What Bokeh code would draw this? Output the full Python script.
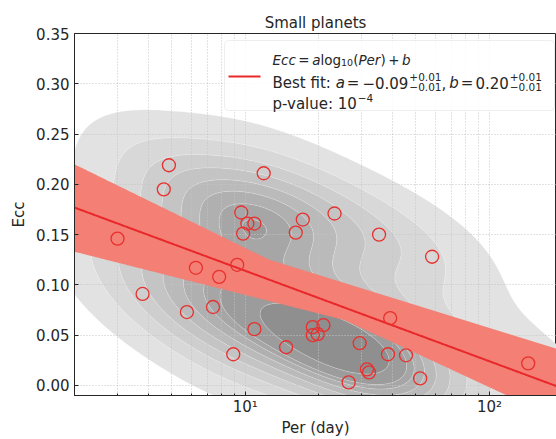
import numpy as np
from bokeh.plotting import figure
from bokeh.models import FixedTicker, NumeralTickFormatter, Label, BoxAnnotation, Range1d
from bokeh.embed import file_html
from bokeh.resources import INLINE

# ---------------- data ----------------
period = [3.0, 3.8, 4.64, 4.87, 5.77, 6.28, 7.38, 7.82, 8.93, 9.27,
          9.63, 9.8, 10.2, 10.9, 10.9, 11.9, 14.7, 16.1, 17.2, 18.9,
          18.9, 19.8, 20.9, 23.2, 26.5, 29.4, 31.5, 32.1, 35.3, 38.4,
          39.2, 45.5, 52.0, 58.2, 144.0]
ecc = [0.146, 0.091, 0.195, 0.219, 0.073, 0.117, 0.078, 0.108, 0.031, 0.120,
       0.172, 0.151, 0.161, 0.161, 0.056, 0.211, 0.038, 0.152, 0.165, 0.058,
       0.050, 0.051, 0.060, 0.171, 0.003, 0.042, 0.016, 0.013, 0.150, 0.031,
       0.067, 0.030, 0.007, 0.128, 0.022]

# best fit  Ecc = a*log10(Per) + b
fit_a = -0.09
fit_b = 0.204
# extreme posterior-sample lines that bound the shaded band
band_a = [-0.119, -0.0754, -0.0615, -0.113]
band_b = [0.2557, 0.208, 0.1515, 0.224]

x_ticks = [10, 100]
x_tick_labels = ["10¹", "10²"]
y_ticks = [0.00, 0.05, 0.10, 0.15, 0.20, 0.25, 0.30, 0.35]
kde_colors = ["#e2e2e2", "#d8d8d8", "#cecece", "#c4c4c4", "#bababa",
              "#b0b0b0", "#a6a6a6", "#9c9c9c", "#8f8f8f"]
kde_bw_adjust = 1.15
title_text = "Small planets"
x_label = "Per (day)"
y_label = "Ecc"

X_MIN, X_MAX = 2.0, 188.0
Y_MIN, Y_MAX = -0.01, 0.35
TXT = "#262626"
FONT = "DejaVu Sans"

p = figure(width=556, height=439, x_axis_type="log",
           x_range=Range1d(X_MIN, X_MAX), y_range=Range1d(Y_MIN, Y_MAX),
           output_backend="svg", toolbar_location=None,
           min_border_left=74, min_border_right=0, min_border_top=33,
           min_border_bottom=43, title=title_text)
p.background_fill_color = "white"
p.border_fill_color = "white"
p.outline_line_color = TXT
p.outline_line_width = 1

# ---------------- KDE background (gaussian kde, iso-proportion levels) ----
L = np.log10(np.array(period))
E = np.array(ecc)
data = np.vstack([L, E])
n = data.shape[1]
factor = n ** (-1.0 / 6.0) * kde_bw_adjust
cov = np.cov(data) * factor ** 2
inv = np.linalg.inv(cov)
bw = np.sqrt(np.diag(cov))
gl = np.linspace(L.min() - 3 * bw[0], L.max() + 3 * bw[0], 220)
ge = np.linspace(E.min() - 3 * bw[1], E.max() + 3 * bw[1], 220)
GL, GE = np.meshgrid(gl, ge)
d0 = GL[..., None] - L
d1 = GE[..., None] - E
q = inv[0, 0] * d0 ** 2 + 2 * inv[0, 1] * d0 * d1 + inv[1, 1] * d1 ** 2
dens = np.exp(-0.5 * q).sum(-1) / (n * 2 * np.pi * np.sqrt(np.linalg.det(cov)))
iso = np.linspace(0.05, 1, 10)
sv = np.sort(dens.ravel())[::-1]
cum = np.cumsum(sv) / sv.sum()
idx = np.searchsorted(cum, 1 - iso)
levels = np.take(sv, idx, mode="clip")
levels[-1] = sv[0] * 1.0001

cr = p.contour(x=10 ** gl, y=ge, z=dens, levels=list(levels),
               fill_color=kde_colors, line_color="white", line_alpha=0.35,
               line_width=0.7)
cr.level = "image"

# ---------------- grid ----------------
for g in (p.xgrid, p.ygrid):
    g.grid_line_color = "#c4c4c4"
    g.grid_line_dash = "1 2"
    g.grid_line_width = 1
p.xgrid.minor_grid_line_color = "#c4c4c4"
p.xgrid.minor_grid_line_dash = "1 2"

# ---------------- fit band, fit line, points ----------------
lx = np.linspace(np.log10(X_MIN), np.log10(X_MAX), 300)
lines = np.array([b + a * lx for a, b in zip(band_a, band_b)])
p.varea(x=10 ** lx, y1=lines.min(axis=0), y2=lines.max(axis=0),
        fill_color="#f47f74")
p.line(x=10 ** lx, y=fit_b + fit_a * lx, line_color="#e8282b", line_width=2)
p.scatter(x=period, y=ecc, marker="circle", size=13, fill_alpha=0,
          line_color="#e8302e", line_width=1.3)

# ---------------- axes ----------------
minor = [m * 10 ** k for k in (0, 1, 2) for m in range(2, 10)]
p.xaxis.ticker = FixedTicker(ticks=x_ticks, minor_ticks=minor)
p.xaxis.major_label_overrides = dict(zip(x_ticks, x_tick_labels))
p.yaxis.ticker = FixedTicker(ticks=y_ticks)
p.yaxis.formatter = NumeralTickFormatter(format="0.00")
p.xaxis.axis_label = x_label
p.yaxis.axis_label = y_label
for ax in (p.xaxis, p.yaxis):
    ax.major_label_text_font = FONT
    ax.major_label_text_font_size = "15px"
    ax.major_label_text_color = TXT
    ax.axis_label_text_font = FONT
    ax.axis_label_text_font_size = "15px"
    ax.axis_label_text_font_style = "normal"
    ax.axis_label_text_color = TXT
    ax.axis_line_color = TXT
    ax.major_tick_line_color = TXT
    ax.minor_tick_line_color = TXT
    ax.major_tick_in = 4
    ax.major_tick_out = 0
    ax.minor_tick_in = 2
    ax.minor_tick_out = 0
    ax.major_label_standoff = 5
    ax.axis_label_standoff = 5
p.yaxis.minor_tick_line_color = None
p.xaxis.major_label_standoff = 2
p.xaxis.axis_label_standoff = 0

p.title.align = "center"
p.title.text_font = FONT
p.title.text_font_size = "15px"
p.title.text_font_style = "normal"
p.title.text_color = TXT
p.title.standoff = 4

# ---------------- legend (built from annotations) ----------------
FL, FB = 74, 396  # frame left / bottom in page pixels
W = {' ': 651, '.': 651, ',': 651, ':': 690, '-': 739, '−': 1716, '+': 1716,
     '=': 1716, '(': 799, ')': 799, 'B': 1405, 'E': 1294, 'P': 1235,
     'a': 1255, 'b': 1300, 'c': 1126, 'e': 1260, 'f': 721, 'g': 1300,
     'i': 569, 'l': 569, 'o': 1253, 'p': 1300, 'r': 842, 's': 1067,
     't': 803, 'u': 1298, 'v': 1212}


def tw(s, size):
    return sum(W.get(c, 1303) for c in s) * size / 2048.0


def put(text, x, y, size, style="normal"):
    p.add_layout(Label(x=x - FL, y=FB - y, x_units="screen", y_units="screen",
                       text=text, text_font=FONT, text_font_size=f"{size}px",
                       text_font_style=style, text_color=TXT,
                       text_baseline="alphabetic", text_align="left"))


def layout_line(segs, x0, base):
    x = x0
    for seg in segs:
        kind = seg[0]
        if kind == "supsub":
            _, sup, sub, size, gap = seg
            x += gap
            put(sup, x, base - 6, size)
            put(sub, x, base + 4, size)
            x += max(tw(sup, size), tw(sub, size))
        else:
            text, style, size, dy, gap = seg
            x += gap
            put(text, x, base + dy, size, style)
            x += tw(text, size)


p.add_layout(BoxAnnotation(left=224 - FL, right=554 - FL, top=FB - 41, bottom=FB - 111,
                           left_units="screen", right_units="screen",
                           top_units="screen", bottom_units="screen",
                           fill_color="white", fill_alpha=0.85,
                           line_color="#c8c8c8", line_width=1, border_radius=4))
p.add_layout(BoxAnnotation(left=228 - FL, right=260 - FL, top=FB - 76, bottom=FB - 78,
                           left_units="screen", right_units="screen",
                           top_units="screen", bottom_units="screen",
                           fill_color="#e8282b", fill_alpha=1, line_alpha=0))

layout_line([("Ecc", "italic", 13.5, 0, 0), ("=", "normal", 13.5, 0, 2.5),
             ("a", "italic", 13.5, 0, 2.5), ("log", "normal", 13.5, 0, 0),
             ("10", "normal", 9.5, 3, 0), ("(", "normal", 13.5, 0, 0),
             ("Per", "italic", 13.5, 0, 0), (")", "normal", 13.5, 0, 0),
             ("+", "normal", 13.5, 0, 2.5), ("b", "italic", 13.5, 0, 2.5)], 272, 60)
layout_line([("Best fit: ", "normal", 15, 0, 0), ("a", "italic", 15, 0, 0),
             ("=", "normal", 15, 0, 2), ("−0.09", "normal", 15, 0, 3),
             ("supsub", "+0.01", "−0.01", 10.5, 1),
             (",", "normal", 15, 0, 0), ("b", "italic", 15, 0, 3),
             ("=", "normal", 15, 0, 2), ("0.20", "normal", 15, 0, 2),
             ("supsub", "+0.01", "−0.01", 10.5, 1)], 272, 83)
layout_line([("p-value: 10", "normal", 15, 0, 0), ("−4", "normal", 10.5, -6, 0.5)], 272, 104)

open("out.html", "w").write(file_html(p, INLINE))
